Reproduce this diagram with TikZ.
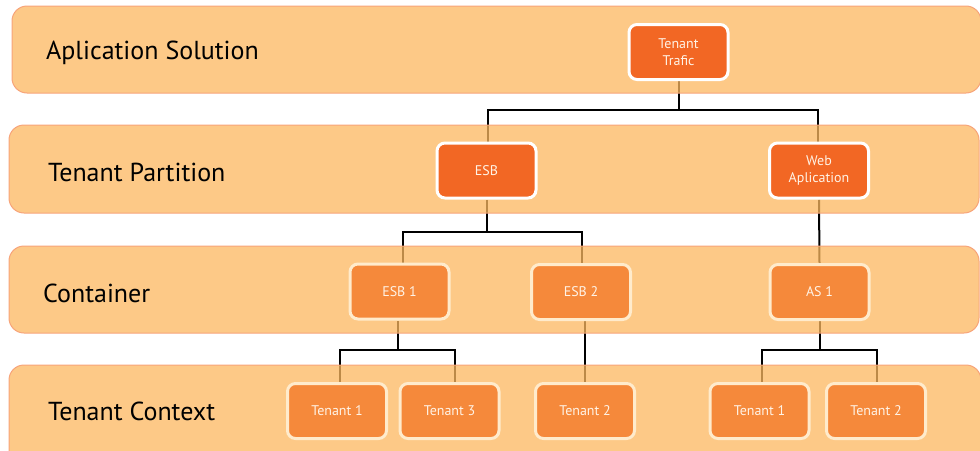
\documentclass[tikz,border=0pt]{standalone}
\usepackage{fontspec}
\setmainfont{PT Sans}
\pgfdeclarelayer{links}
\pgfdeclarelayer{bands}
\pgfsetlayers{links,bands,main}

\definecolor{bandfill}{RGB}{252,183,95}
\definecolor{bandline}{RGB}{247,164,122}
\definecolor{darkbox}{RGB}{242,103,36}
\definecolor{lightbox}{RGB}{245,137,59}
\definecolor{lightrim}{RGB}{255,235,204}
\definecolor{boxtext}{RGB}{255,243,230}

\tikzset{
  band/.style={draw=bandline, line width=1pt, fill=bandfill, fill opacity=0.75, rounded corners=15pt},
  bandlabel/.style={anchor=west, inner sep=0pt, font=\fontsize{26}{31}\selectfont, text=black},
  unit/.style={rounded corners=8pt, line width=3pt, minimum width=99pt, minimum height=55pt,
    inner sep=0pt, align=center, text=boxtext, font=\fontsize{14}{17.5}\selectfont},
  tier/.style={unit, fill=darkbox, draw=white},
  instance/.style={unit, fill=lightbox, draw=lightrim},
  link/.style={draw=black, line width=2pt}
}

\begin{document}
\begin{tikzpicture}[x=1pt, y=-1pt]
\useasboundingbox (0,0) rectangle (980,450);

% horizontal layers
\begin{pgfonlayer}{bands}
  \path[band] (12,6) rectangle (981,93);
  \path[band] (9,125) rectangle (979,213);
  \path[band] (9,246) rectangle (979,333);
  \path[band] (9,365) rectangle (981,470);
\end{pgfonlayer}

\node[bandlabel] (l1) at (46,53) {Aplication Solution};
\node[bandlabel] (l2) at (48,172) {Tenant Partition};
\node[bandlabel] (l3) at (43,293) {Container};
\node[bandlabel] (l4) at (48,411) {Tenant Context};

% units
\node[tier] (traf) at (678.5,52) {Tenant\\Trafic};
\node[tier] (esb) at (486.5,170.5) {ESB};
\node[tier] (web) at (819,170.5) {Web\\Aplication};

\node[instance] (esb1) at (399.5,291.5) {ESB 1};
\node[instance] (esb2) at (581,292) {ESB 2};
\node[instance] (as1) at (819.5,292) {AS 1};

\node[instance] (ta1) at (337,411) {Tenant 1};
\node[instance] (ta3) at (449.5,411) {Tenant 3};
\node[instance] (ta2) at (585,411) {Tenant 2};
\node[instance] (tb1) at (759.5,411) {Tenant 1};
\node[instance] (tb2) at (876,411) {Tenant 2};

% bus levels
\coordinate (bus1) at (0,110);
\coordinate (bus2) at (0,232);
\coordinate (bus3) at (0,350);

\begin{pgfonlayer}{links}
  \draw[link] (traf.south) -- (traf.south |- bus1);
  \draw[link] ([xshift=1.5pt]esb.north) -- ([xshift=1.5pt]esb.north |- bus1) -| ([xshift=-1pt]web.north);

  \draw[link] (esb.south) -- (esb.south |- bus2);
  \draw[link] ([xshift=3pt]esb1.north) -- ([xshift=3pt]esb1.north |- bus2) -| ([xshift=1pt]esb2.north);
  \draw[link] (web.south) -- (as1.north);

  \draw[link] ([xshift=-1.5pt]esb1.south) -- ([xshift=-1.5pt]esb1.south |- bus3);
  \draw[link] ([xshift=3pt]ta1.north) -- ([xshift=3pt]ta1.north |- bus3) -| ([xshift=5.5pt]ta3.north);
  \draw[link] (ta2.north |- esb2.south) -- (ta2.north);

  \draw[link] (as1.south) -- (as1.south |- bus3);
  \draw[link] ([xshift=2.5pt]tb1.north) -- ([xshift=2.5pt]tb1.north |- bus3) -| ([xshift=1pt]tb2.north);
\end{pgfonlayer}
\end{tikzpicture}
\end{document}
